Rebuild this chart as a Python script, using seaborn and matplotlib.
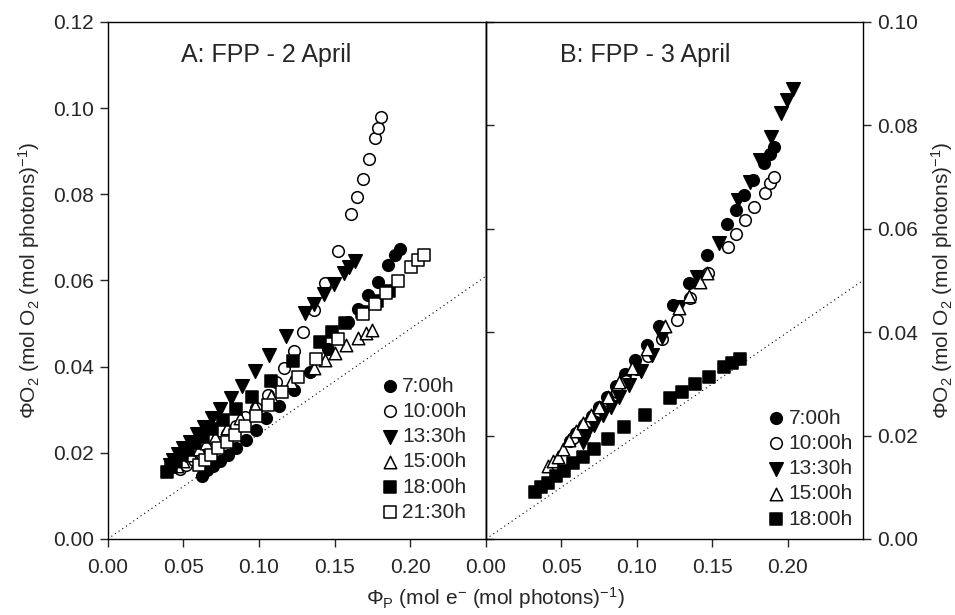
import matplotlib
matplotlib.use("Agg")
import matplotlib.pyplot as plt
import seaborn as sns
from matplotlib.ticker import FormatStrFormatter

# ---------------- data ----------------
series_labels = ["7:00h", "10:00h", "13:30h", "15:00h", "18:00h", "21:30h"]

# Panel A: FPP - 2 April
A_700_x = [0.0620, 0.0658, 0.0697, 0.0741, 0.0796, 0.0851, 0.0911, 0.0977, 0.1049, 0.1133,
           0.1232, 0.1340, 0.1456, 0.1588, 0.1654, 0.1720, 0.1786, 0.1852, 0.1896, 0.1929]
A_700_y = [0.0146, 0.0159, 0.0169, 0.0181, 0.0195, 0.0212, 0.0230, 0.0253, 0.0280, 0.0309,
           0.0346, 0.0388, 0.0440, 0.0504, 0.0533, 0.0566, 0.0597, 0.0636, 0.0659, 0.0672]

A_1000_x = [0.048, 0.052, 0.057, 0.062, 0.067, 0.073, 0.079, 0.085, 0.091, 0.098, 0.1056,
            0.1115, 0.1164, 0.1230, 0.1291, 0.1366, 0.1436, 0.1522, 0.1610, 0.1650, 0.1685,
            0.1727, 0.1767, 0.1786, 0.1804]
A_1000_y = [0.0162, 0.0172, 0.0183, 0.0196, 0.0210, 0.0226, 0.0243, 0.0262, 0.0283, 0.0305,
            0.0334, 0.0365, 0.0398, 0.0436, 0.0480, 0.0532, 0.0595, 0.0669, 0.0755, 0.0793,
            0.0836, 0.0881, 0.0930, 0.0955, 0.0979]

A_1330_x = [0.0411, 0.0433, 0.0466, 0.0499, 0.0543, 0.0587, 0.0638, 0.0688, 0.0743, 0.0812,
            0.0886, 0.0972, 0.1067, 0.1181, 0.1307, 0.1364, 0.1428, 0.1494, 0.1562, 0.1595, 0.1633]
A_1330_y = [0.0172, 0.0183, 0.0197, 0.0211, 0.0226, 0.0243, 0.0261, 0.0280, 0.0302, 0.0327,
            0.0355, 0.0391, 0.0427, 0.0471, 0.0524, 0.0545, 0.0569, 0.0591, 0.0617, 0.0631, 0.0645]

A_1500_x = [0.046, 0.050, 0.055, 0.060, 0.065, 0.0708, 0.0785, 0.0873, 0.0972, 0.1078,
            0.1208, 0.1362, 0.1434, 0.1500, 0.1577, 0.1654, 0.1705, 0.1747]
A_1500_y = [0.0170, 0.0180, 0.0195, 0.0208, 0.0222, 0.0237, 0.0257, 0.0280, 0.0309, 0.0332,
            0.0365, 0.0398, 0.0416, 0.0431, 0.0450, 0.0467, 0.0477, 0.0484]

A_1800_x = [0.039, 0.042, 0.045, 0.049, 0.053, 0.058, 0.063, 0.069, 0.0763, 0.0851, 0.0955,
            0.1076, 0.1225, 0.1401, 0.1485, 0.1567, 0.168, 0.178, 0.186]
A_1800_y = [0.0156, 0.0168, 0.0180, 0.0194, 0.0207, 0.0222, 0.0237, 0.0255, 0.0276, 0.0301,
            0.0330, 0.0367, 0.0412, 0.0458, 0.0480, 0.0502, 0.0527, 0.0553, 0.0575]

A_2130_x = [0.0605, 0.0642, 0.0680, 0.0730, 0.0785, 0.0840, 0.0906, 0.0979, 0.1060, 0.1155,
            0.1258, 0.1379, 0.1522, 0.1687, 0.1764, 0.1841, 0.1918, 0.2006, 0.205, 0.209]
A_2130_y = [0.0172, 0.0183, 0.0195, 0.0211, 0.0226, 0.0241, 0.0262, 0.0286, 0.0311, 0.0342,
            0.0377, 0.0417, 0.0464, 0.0522, 0.0545, 0.0572, 0.0599, 0.0632, 0.0648, 0.0659]

# Panel B: FPP - 3 April
B_700_x = [0.056, 0.060, 0.065, 0.070, 0.075, 0.080, 0.0861, 0.0920, 0.0988, 0.1069, 0.1146,
           0.1241, 0.1344, 0.1465, 0.1597, 0.1656, 0.1713, 0.1772, 0.1845, 0.1882, 0.1910]
B_700_y = [0.0190, 0.0205, 0.0220, 0.0238, 0.0255, 0.0275, 0.0296, 0.0319, 0.0346, 0.0375, 0.0411,
           0.0453, 0.0496, 0.0549, 0.0609, 0.0636, 0.0665, 0.0694, 0.0727, 0.0745, 0.0759]

B_1000_x = [0.058, 0.063, 0.069, 0.075, 0.081, 0.087, 0.093, 0.100, 0.1076, 0.1164, 0.1267,
            0.1355, 0.1471, 0.1603, 0.1658, 0.1717, 0.1779, 0.1849, 0.1882, 0.1910]
B_1000_y = [0.0195, 0.0210, 0.0228, 0.0247, 0.0266, 0.0285, 0.0305, 0.0328, 0.0353, 0.0386, 0.0424,
            0.0466, 0.0514, 0.0564, 0.0589, 0.0616, 0.0642, 0.0670, 0.0688, 0.0700]

B_1330_x = [0.0641, 0.0663, 0.0718, 0.0773, 0.0828, 0.0883, 0.0949, 0.1026, 0.110, 0.117,
            0.1278, 0.1399, 0.1542, 0.1673, 0.1750, 0.1816, 0.1889, 0.1959, 0.1998, 0.2036]
B_1330_y = [0.0188, 0.0201, 0.0220, 0.0240, 0.0256, 0.0275, 0.0298, 0.0324, 0.0355, 0.0390,
            0.0449, 0.0507, 0.0572, 0.0656, 0.0691, 0.0733, 0.0777, 0.0823, 0.0849, 0.0870]

B_1500_x = [0.0410, 0.0443, 0.0476, 0.0509, 0.0553, 0.0597, 0.0641, 0.0696, 0.0751, 0.0806,
            0.0883, 0.0970, 0.1069, 0.1190, 0.1278, 0.1344, 0.1421, 0.1465]
B_1500_y = [0.0141, 0.0150, 0.0159, 0.0175, 0.0191, 0.0208, 0.0224, 0.0240, 0.0256, 0.0275,
            0.0304, 0.0330, 0.0367, 0.0412, 0.0446, 0.0469, 0.0498, 0.0514]

B_1800_x = [0.0323, 0.0367, 0.0410, 0.0466, 0.0520, 0.0575, 0.0641, 0.0718, 0.0806, 0.0916,
            0.1052, 0.1217, 0.1300, 0.1383, 0.1476, 0.1581, 0.1634, 0.1684]
B_1800_y = [0.0090, 0.0100, 0.0108, 0.0121, 0.0132, 0.0146, 0.0159, 0.0174, 0.0193, 0.0216,
            0.0240, 0.0272, 0.0285, 0.0300, 0.0314, 0.0332, 0.0341, 0.0348]

# dotted reference lines (end points)
ref_x = [0.0, 0.25]
ref_A_y = [0.0, 0.061]
ref_B_y = [0.0, 0.050]

x_ticks = [0.00, 0.05, 0.10, 0.15, 0.20]
A_y_ticks = [0.00, 0.02, 0.04, 0.06, 0.08, 0.10, 0.12]
B_y_ticks = [0.00, 0.02, 0.04, 0.06, 0.08, 0.10]

# ---------------- style ----------------
sns.set_style("ticks")
plt.rcParams["font.family"] = ["Liberation Sans", "DejaVu Sans"]
plt.rcParams["mathtext.fontset"] = "custom"
plt.rcParams["mathtext.rm"] = "Liberation Sans"
plt.rcParams["mathtext.it"] = "Liberation Sans:italic"
plt.rcParams["axes.linewidth"] = 1.0
plt.rcParams["axes.edgecolor"] = "black"

marker_style = {
    "7:00h": ("o", "black", 70),
    "10:00h": ("o", "white", 70),
    "13:30h": ("v", "black", 95),
    "15:00h": ("^", "white", 80),
    "18:00h": ("s", "black", 70),
    "21:30h": ("s", "white", 65),
}

fig = plt.figure(figsize=(9.55, 6.15), dpi=100)
axA = fig.add_axes([0.1128, 0.1236, 0.3961, 0.8407])
axB = fig.add_axes([0.5089, 0.1236, 0.3948, 0.8407])

panelA = [("7:00h", A_700_x, A_700_y), ("10:00h", A_1000_x, A_1000_y),
          ("13:30h", A_1330_x, A_1330_y), ("15:00h", A_1500_x, A_1500_y),
          ("18:00h", A_1800_x, A_1800_y), ("21:30h", A_2130_x, A_2130_y)]
panelB = [("7:00h", B_700_x, B_700_y), ("10:00h", B_1000_x, B_1000_y),
          ("13:30h", B_1330_x, B_1330_y), ("15:00h", B_1500_x, B_1500_y),
          ("18:00h", B_1800_x, B_1800_y)]

legend_anchor = {"A": (0.960, 0.025), "B": (0.985, 0.012)}

for name, ax, panel, ref_y in [("A", axA, panelA, ref_A_y), ("B", axB, panelB, ref_B_y)]:
    ax.plot(ref_x, ref_y, linestyle=(0, (1, 3)), color="black", linewidth=0.8, zorder=1)
    for lab, xs, ys in panel:
        m, fc, s = marker_style[lab]
        sns.scatterplot(x=xs, y=ys, ax=ax, marker=m, color=fc, edgecolor="black",
                        linewidth=1.1, s=s, label=lab, zorder=3)
    ax.set_xlim(0, 0.25)
    ax.set_xticks(x_ticks)
    ax.xaxis.set_major_formatter(FormatStrFormatter("%.2f"))
    ax.tick_params(axis="x", direction="out", length=6, width=1, labelsize=15, pad=8)
    ax.legend(loc="lower right", bbox_to_anchor=legend_anchor[name], frameon=False,
              fontsize=15, handletextpad=0.1, handlelength=1.0, labelspacing=0.3,
              borderaxespad=0.0, borderpad=0.2)

axA.set_ylim(0, 0.12)
axA.set_yticks(A_y_ticks)
axA.yaxis.set_major_formatter(FormatStrFormatter("%.2f"))
axA.tick_params(axis="y", direction="out", length=6, width=1, labelsize=15, pad=4)

axB.set_ylim(0, 0.10)
axB.set_yticks(B_y_ticks)
axB.yaxis.set_major_formatter(FormatStrFormatter("%.2f"))
axB.yaxis.tick_right()
axB.tick_params(axis="y", direction="out", length=6, width=1, labelsize=15, pad=4,
                left=False, right=True, labelleft=False, labelright=True)
sec = axB.secondary_yaxis("left")
sec.set_yticks(B_y_ticks)
sec.tick_params(axis="y", direction="in", length=6, width=1, labelleft=False)

axA.text(0.418, 0.936, "A: FPP - 2 April", transform=axA.transAxes,
         ha="center", va="center", fontsize=18)
axB.text(0.423, 0.936, "B: FPP - 3 April", transform=axB.transAxes,
         ha="center", va="center", fontsize=18)

ylab = r"ΦO$_\mathregular{2}$ (mol O$_\mathregular{2}$ (mol photons)$^\mathregular{-1}$)"
axA.set_ylabel(ylab, fontsize=15)
axA.yaxis.set_label_coords(-0.175, 0.5)
axB.set_ylabel(ylab, fontsize=15)
axB.yaxis.set_label_position("right")
axB.yaxis.set_label_coords(1.175, 0.5)

fig.text(0.519, 0.027,
         r"Φ$_\mathregular{P}$ (mol e$^\mathregular{-}$ (mol photons)$^\mathregular{-1}$)",
         ha="center", va="center", fontsize=15)

fig.savefig("out.png", dpi=100)
